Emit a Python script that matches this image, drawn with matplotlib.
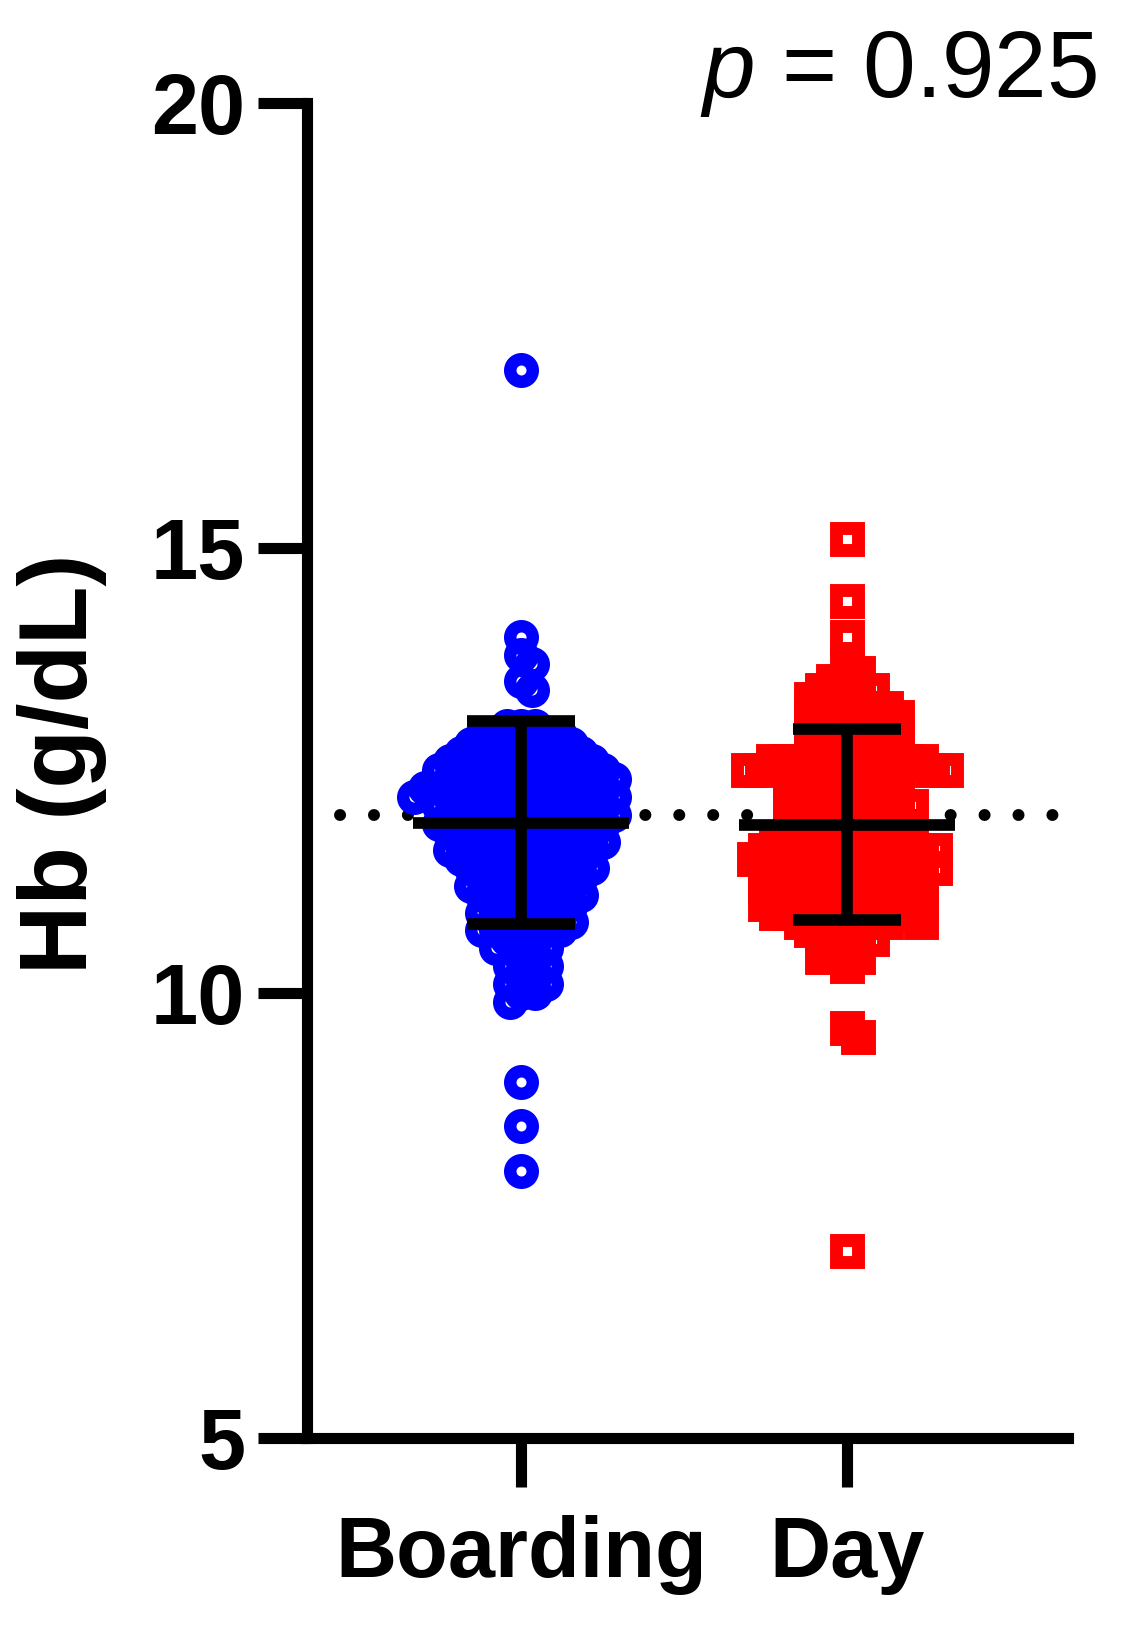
import numpy as np
import matplotlib
matplotlib.use('Agg')
import matplotlib.pyplot as plt

# ---- data (Hb in g/dL, values at 0.1 resolution) ----
boarding_levels = [17.0, 14.0, 13.8, 13.7, 13.5, 13.4, 13.0, 12.9, 12.8, 12.7, 12.6, 12.5,
                   12.4, 12.3, 12.2, 12.1, 12.0, 11.9, 11.8, 11.7, 11.6, 11.5, 11.4, 11.3,
                   11.2, 11.1, 11.0, 10.9, 10.8, 10.7, 10.6, 10.5, 10.4, 10.3, 10.2, 10.1,
                   10.0, 9.9, 9.0, 8.5, 8.0]
boarding_counts = [1, 1, 1, 1, 1, 1, 3, 4, 5, 6, 7, 8,
                   8, 9, 9, 8, 8, 8, 7, 7, 7, 6, 6, 5,
                   5, 5, 4, 4, 4, 4, 3, 2, 2, 2, 2, 2,
                   2, 1, 1, 1, 1]

day_levels = [15.1, 14.4, 14.0, 13.7, 13.6, 13.5, 13.4, 13.3, 13.2, 13.1, 13.0, 12.9,
              12.8, 12.7, 12.6, 12.5, 12.4, 12.3, 12.2, 12.1, 12.0, 11.9, 11.8, 11.7,
              11.6, 11.5, 11.4, 11.3, 11.2, 11.1, 11.0, 10.9, 10.8, 10.7, 10.6, 10.5,
              10.4, 10.3, 9.6, 9.5, 7.1]
day_counts = [1, 1, 1, 1, 1, 2, 3, 3, 4, 4, 4, 4,
              4, 4, 9, 8, 5, 5, 5, 6, 5, 5, 5, 7,
              8, 8, 8, 7, 7, 7, 7, 7, 6, 3, 3, 2,
              2, 1, 1, 1, 1]

group_labels = ['Boarding', 'Day']
group_means = [11.91, 11.89]
group_sds = [1.14, 1.075]
reference_level = 12.0
p_value_text = '0.925'
y_ticks = [5, 10, 15, 20]

# ---- style ----
plt.rcParams['font.family'] = ['Liberation Sans', 'DejaVu Sans']
plt.rcParams['mathtext.fontset'] = 'custom'
plt.rcParams['mathtext.it'] = 'Liberation Sans:italic'
plt.rcParams['mathtext.rm'] = 'Liberation Sans'

W, H = 1124, 1626
fig = plt.figure(figsize=(W / 100, H / 100), dpi=100)
ax = fig.add_axes([307 / W, 1 - 1437.5 / H, (1068 - 307) / W, (1437.5 - 103.25) / H])
ax.set_xlim(-0.6564, 1.6779)
ax.set_ylim(5, 20)


def swarm_offsets(values, xc, d_px):
    """Greedy beeswarm layout in pixel space; returns x offsets in data units."""
    vals = np.asarray(values, float)
    pts = ax.transData.transform(np.column_stack([np.full(len(vals), xc), vals]))
    ys = pts[:, 1]
    px_per_x = ax.transData.transform((1, 0))[0] - ax.transData.transform((0, 0))[0]
    order = np.argsort(-vals, kind='stable')
    px_list, py_list = [], []
    offs = np.zeros(len(vals))
    for i in order:
        y = ys[i]
        cands = [0.0]
        for qx, qy in zip(px_list, py_list):
            dy = abs(qy - y)
            if dy < d_px:
                dx = np.sqrt(d_px ** 2 - dy ** 2)
                cands += [qx + dx, qx - dx]
        cands.sort(key=abs)
        chosen = 0.0
        for c in cands:
            ok = True
            for qx, qy in zip(px_list, py_list):
                if (c - qx) ** 2 + (y - qy) ** 2 < d_px ** 2 - 1e-6:
                    ok = False
                    break
            if ok:
                chosen = c
                break
        px_list.append(chosen)
        py_list.append(y)
        offs[i] = chosen / px_per_x
    return offs


boarding = np.repeat(boarding_levels, boarding_counts)
day = np.repeat(day_levels, day_counts)

# reference dotted line (under the points)
ax.plot([-0.5558, 1.645], [reference_level, reference_level], color='black',
        lw=8.6, linestyle=(0, (0.01, 2.83)), dash_capstyle='round', zorder=1)

off_b = swarm_offsets(boarding, 0, 14)
off_d = swarm_offsets(day, 1, 14)
ax.plot(0 + off_b, boarding, linestyle='none', marker='o', ms=16.2, mew=9.0,
        mfc='none', mec='#0000FF', zorder=2)
ax.plot(1 + off_d, day, linestyle='none', marker='s', ms=16.5, mew=9.3,
        mfc='none', mec='#FF0000', zorder=2)

# mean +/- SD
for i, (m, s) in enumerate(zip(group_means, group_sds)):
    kw = dict(color='black', lw=8.4, solid_capstyle='butt', zorder=5)
    ax.plot([i - 0.331, i + 0.331], [m, m], **kw)
    ax.plot([i, i], [m - s, m + s], **kw)
    ax.plot([i - 0.167, i + 0.167], [m + s, m + s], **kw)
    ax.plot([i - 0.167, i + 0.167], [m - s, m - s], **kw)

# axes styling
for side in ['top', 'right']:
    ax.spines[side].set_visible(False)
for side in ['left', 'bottom']:
    ax.spines[side].set_linewidth(8)
    ax.spines[side].set_capstyle('projecting')
ax.set_yticks(y_ticks)
ax.set_yticklabels([str(t) for t in y_ticks])
ax.set_xticks([0, 1])
ax.set_xticklabels(group_labels)
ax.tick_params(axis='both', length=35, width=8, direction='out', labelsize=61)
ax.tick_params(axis='x', pad=21)
ax.tick_params(axis='y', pad=9.4)
for lab in ax.get_xticklabels() + ax.get_yticklabels():
    lab.set_fontweight('bold')

fig.text(62 / W, 1 - 764 / H, 'Hb (g/dL)', rotation=90, ha='center', va='center',
         fontsize=69, fontweight='bold')
fig.text(1097 / W, 1 - 97 / H, r'$p$ = ' + p_value_text, ha='right', va='baseline',
         fontsize=68)

fig.savefig('out.png', dpi=100)
